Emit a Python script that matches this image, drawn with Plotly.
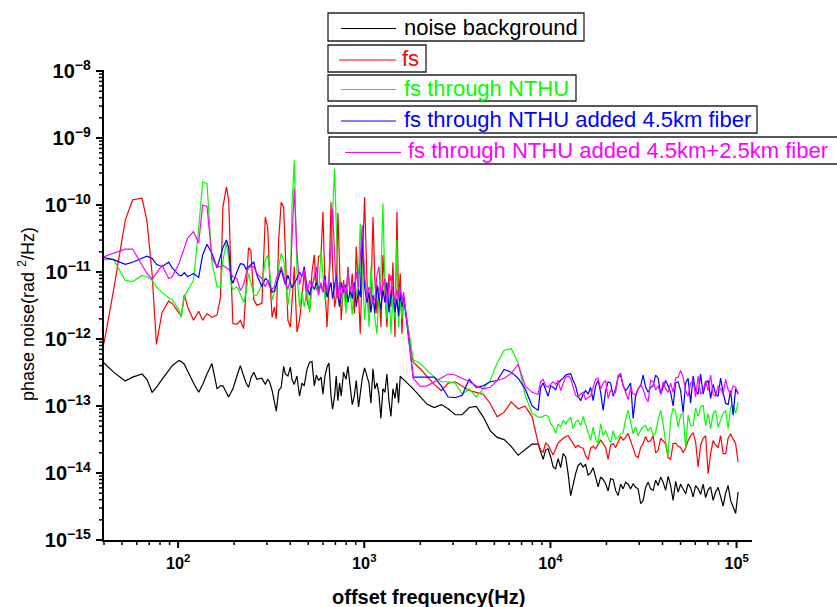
import math
import plotly.graph_objects as go

# ---------------- data (offset frequency in Hz, phase noise in rad^2/Hz) ----------------
freq_a = [40, 45, 52, 57, 64, 68, 72.5, 76.5, 82, 89, 93, 101, 104, 108, 112.6, 121, 129, 135.5, 143, 152,
          162, 169, 174, 182, 187, 192.5, 197, 207, 216, 225, 232, 239, 246, 255, 265, 282, 294, 303, 310, 320,
          329, 337, 347, 358, 369, 377, 389, 401, 409, 421, 435, 449, 463, 476, 492, 509, 524, 539, 553, 568,
          586, 600, 615, 631, 646, 663, 676, 693, 707, 722, 737, 752, 774, 798, 817, 841, 862, 884, 906, 932,
          952, 976, 1004, 1034, 1060, 1086, 1114, 1141, 1170, 1199, 1229, 1260, 1291, 1324, 1357, 1391, 1426, 1462, 1498, 1528,
          1561, 1594, 1626]
freq_b = [1832, 1998, 2179, 2376, 2591, 2824, 3080, 3357, 3661, 3993, 4353, 4747, 5176, 5643, 6153, 6709, 7314, 7975]
freq_c = [8590, 8860, 9138, 9425, 9721, 10026, 10341, 10666, 11001, 11346, 11702, 12070, 12449, 12840, 13243, 13659,
          14088, 14530, 14986, 15457, 15942, 16443, 16959, 17492, 18041, 18608, 19192, 19795, 20416, 21057, 21719,
          22401, 23104, 23830, 24578, 25350, 26146, 26967, 27814, 28687, 29588, 30517, 31475, 32464, 33483, 34535,
          35619, 36738, 37891, 39081, 40308, 41574, 42880, 44226, 45615, 47047, 48525, 50048, 51620, 53241, 54913,
          56637, 58415, 60250, 62142, 64093, 66105, 68181, 70322, 72530, 74807, 77156, 79579, 82078, 84655, 87313,
          90055, 92882, 95799, 98807, 101910]

noise_a = [4.4e-13, 3.2e-13, 2.36e-13, 2.7e-13, 3.0e-13, 2.5e-13, 1.6e-13, 1.9e-13, 2.5e-13, 3.4e-13,
           4.0e-13, 4.8e-13, 4.6e-13, 4.2e-13, 3.3e-13, 2.2e-13, 1.6e-13, 2.1e-13, 3.0e-13, 4.3e-13,
           1.8e-13, 2.0e-13, 2.0e-13, 1.6e-13, 1.36e-13, 1.6e-13, 1.8e-13, 2.8e-13, 4.0e-13, 2.8e-13,
           2.2e-13, 1.9e-13, 2.6e-13, 3.2e-13, 2.5e-13, 2.6e-13, 2.1e-13, 2.5e-13, 2.3e-13, 1.7e-13,
           1.2e-13, 8.4e-14, 1.7e-13, 1.9e-13, 3.9e-13, 3.0e-13, 2.8e-13, 3.8e-13, 2.5e-13, 2.1e-13,
           2.8e-13, 1.4e-13, 2.2e-13, 2.0e-13, 3.5e-13, 4.5e-13, 4.6e-13, 2.0e-13, 2.9e-13, 2.4e-13,
           2.7e-13, 1.5e-13, 2.8e-13, 3.8e-13, 4.4e-13, 1.4e-13, 9.0e-14, 1.4e-13, 2.8e-13, 1.2e-13,
           2.2e-13, 1.4e-13, 3.2e-13, 2.5e-13, 3.9e-13, 1.8e-13, 1.05e-13, 1.4e-13, 2.4e-13, 9.7e-14,
           1.5e-13, 2.6e-13, 3.7e-13, 2.8e-13, 2.2e-13, 1.1e-13, 3.6e-13, 1.8e-13, 2.2e-13, 1.5e-13,
           6.5e-14, 1.8e-13, 1.6e-13, 3.0e-13, 1.2e-13, 7.0e-14, 1.8e-13, 1.3e-13, 2.2e-13, 1.1e-13,
           2.8e-13, 2.6e-13, 2.5e-13]
noise_b = [1.8e-13, 1.36e-13, 1.06e-13, 9.5e-14, 1.05e-13, 9.1e-14, 7.4e-14, 7.4e-14, 9.5e-14, 9.9e-14,
           6.9e-14, 4.3e-14, 3.4e-14, 3.15e-14, 2.5e-14, 1.84e-14, 2.2e-14, 2.7e-14]
noise_c = [2.7e-14, 2.05e-14, 1.6e-14, 2.2e-14, 2.3e-14, 1.75e-14, 1.23e-14, 1.16e-14, 1.64e-14, 1.2e-14,
           1.95e-14, 1.75e-14, 9.8e-15, 4.6e-15, 6.9e-15, 9.8e-15, 1.3e-14, 1.4e-14, 1.23e-14, 1.35e-14,
           9.3e-15, 1.0e-14, 1.2e-14, 8.7e-15, 6.2e-15, 8.7e-15, 8.0e-15, 6.9e-15, 5.4e-15, 8.2e-15,
           8.0e-15, 5.5e-15, 4.6e-15, 6.8e-15, 5.8e-15, 7.3e-15, 6.8e-15, 5.8e-15, 6.9e-15, 6.1e-15,
           5.8e-15, 3.5e-15, 3.9e-15, 6.1e-15, 7.3e-15, 5.8e-15, 5.5e-15, 7.8e-15, 6.5e-15, 8.7e-15,
           7.3e-15, 5.5e-15, 8.9e-15, 6.5e-15, 3.9e-15, 7.5e-15, 5.2e-15, 6.8e-15, 5.8e-15, 4.9e-15,
           6.9e-15, 6.0e-15, 4.4e-15, 6.5e-15, 5.8e-15, 4.8e-15, 6.8e-15, 4.3e-15, 5.6e-15, 6.2e-15,
           3.9e-15, 5.2e-15, 6.1e-15, 4.6e-15, 3.2e-15, 5.0e-15, 6.5e-15, 3.9e-15, 3.0e-15, 2.5e-15,
           5.2e-15]

fs_a = [8.6e-13, 5.3e-12, 5.9e-11, 1.2e-10, 1.26e-10, 5.9e-11, 9.5e-12, 8.3e-13, 2.5e-12, 3.7e-12,
        3.4e-12, 2.4e-12, 2.2e-12, 4.6e-12, 3.0e-12, 1.9e-12, 2.6e-12, 1.9e-12, 2.4e-12, 2.1e-12,
        2.3e-12, 4.2e-12, 9.3e-11, 1.86e-10, 1.17e-10, 9.5e-12, 1.7e-12, 1.66e-12, 1.9e-12, 1.43e-12,
        6.0e-12, 2.3e-11, 2.1e-11, 3.8e-12, 3.2e-12, 3.4e-12, 6.6e-11, 4.6e-11, 9.5e-12, 2.1e-12,
        3.0e-12, 2.0e-12, 3.0e-11, 1.1e-10, 9.3e-11, 2.1e-11, 1.9e-12, 1.5e-12, 4.2e-12, 1.2e-11,
        1.27e-12, 1.9e-12, 4.2e-12, 1.0e-11, 3.8e-12, 2.7e-12, 1.0e-11, 1.8e-11, 5.3e-12, 1.7e-11,
        1.8e-11, 7.9e-11, 6.0e-12, 1.5e-12, 6.0e-12, 1.1e-10, 1.2e-11, 3.0e-12, 4.2e-12, 7.6e-11,
        1.2e-11, 1.9e-12, 7.5e-12, 3.4e-12, 1.2e-11, 4.2e-12, 9.5e-12, 2.4e-12, 2.4e-11, 4.2e-12,
        1.2e-12, 1.2e-11, 1.3e-10, 7.5e-12, 1.9e-12, 4.0e-12, 6.6e-11, 7.5e-12, 2.4e-12, 6.0e-12,
        1.5e-12, 1.8e-11, 6.0e-12, 1.5e-12, 9.5e-12, 3.0e-12, 1.4e-11, 1.07e-12, 7.9e-11, 3.8e-12,
        9.5e-12, 1.2e-12, 4.2e-12]
fs_b = [4.5e-13, 3.6e-13, 2.7e-13, 2.1e-13, 1.7e-13, 2.2e-13, 2.3e-13, 1.97e-13, 1.7e-13, 1.6e-13,
        1.5e-13, 1.09e-13, 6.9e-14, 8.1e-14, 1.15e-13, 9.1e-14, 9.9e-14, 6.9e-14]
fs_c = [2.8e-14, 2.2e-14, 2.05e-14, 2.8e-14, 2.6e-14, 2.2e-14, 1.85e-14, 2.3e-14, 2.8e-14, 3.05e-14,
        3.3e-14, 3.5e-14, 3.6e-14, 3.2e-14, 2.75e-14, 2.4e-14, 2.6e-14, 2.4e-14, 2.35e-14, 1.8e-14,
        1.6e-14, 2.35e-14, 2.5e-14, 2.3e-14, 2.75e-14, 3.1e-14, 2.75e-14, 2.4e-14, 1.6e-14, 2.6e-14,
        2.75e-14, 2.4e-14, 2.9e-14, 3.5e-14, 3.1e-14, 3.4e-14, 3.9e-14, 2.9e-14, 2.35e-14, 1.8e-14,
        1.7e-14, 2.4e-14, 2.75e-14, 3.5e-14, 2.9e-14, 3.05e-14, 3.6e-14, 2.0e-14, 2.2e-14, 3.3e-14,
        3.05e-14, 2.75e-14, 1.7e-14, 1.6e-14, 2.75e-14, 2.8e-14, 2.5e-14, 2.4e-14, 2.0e-14, 2.35e-14,
        3.05e-14, 3.6e-14, 4.0e-14, 2.9e-14, 1.23e-14, 2.6e-14, 3.3e-14, 3.6e-14, 9.8e-15, 1.95e-14,
        3.05e-14, 2.6e-14, 2.4e-14, 3.6e-14, 1.95e-14, 1.95e-14, 3.3e-14, 3.85e-14, 3.2e-14, 2.75e-14,
        1.45e-14]

nthu_a = [1.53e-11, 1.55e-11, 7.5e-12, 7.2e-12, 8.9e-12, 8.5e-12, 7.5e-12, 6.0e-12, 5.0e-12, 4.1e-12,
          3.9e-12, 2.7e-12, 2.1e-12, 4.3e-12, 5.3e-12, 7.5e-12, 4.5e-11, 2.2e-10, 2.1e-10, 1.4e-11,
          6.0e-12, 6.0e-12, 1.5e-11, 2.7e-11, 1.6e-11, 6.5e-12, 5.5e-12, 6.0e-12, 4.7e-12, 3.5e-12,
          5.0e-12, 9.5e-12, 7.0e-12, 4.5e-12, 4.5e-12, 6.5e-12, 1.5e-11, 1.8e-11, 1.06e-11, 3.8e-12,
          5.0e-12, 5.5e-12, 1.2e-11, 1.9e-11, 1.5e-11, 8.0e-12, 3.2e-12, 6.0e-12, 1.0e-10, 4.65e-10,
          1.0e-11, 3.0e-12, 5.0e-12, 3.0e-12, 5.5e-12, 2.5e-12, 6.0e-12, 8.4e-12, 6.0e-12, 4.5e-12,
          2.1e-11, 1.0e-11, 3.8e-12, 5.0e-12, 7.0e-12, 2.4e-11, 8.0e-11, 3.5e-10, 5.3e-11, 6.0e-12,
          3.2e-12, 3.0e-12, 6.5e-12, 2.4e-12, 1.0e-11, 4.2e-12, 2.3e-12, 7.0e-12, 4.0e-12, 1.0e-11,
          5.3e-11, 1.2e-11, 1.9e-12, 6.0e-12, 1.5e-12, 1.2e-11, 4.2e-12, 2.0e-12, 1.2e-12, 5.0e-12,
          9.5e-12, 1.05e-10, 6.0e-12, 2.0e-12, 6.0e-12, 1.2e-12, 4.5e-12, 2.0e-12, 3.0e-11, 1.5e-12,
          4.2e-12, 2.0e-12, 4.0e-12]
nthu_b = [4.9e-13, 4.3e-13, 3.4e-13, 2.7e-13, 2.3e-13, 2.3e-13, 2.2e-13, 1.5e-13, 1.8e-13, 1.36e-13,
          1.8e-13, 2.4e-13, 4.4e-13, 6.8e-13, 7.2e-13, 4.4e-13, 1.45e-13, 7.7e-14]
nthu_c = [6.9e-14, 6.7e-14, 7.0e-14, 7.3e-14, 7.0e-14, 5.5e-14, 4.85e-14, 3.9e-14, 5.4e-14, 4.85e-14,
          6.1e-14, 5.4e-14, 6.1e-14, 6.8e-14, 4.6e-14, 5.8e-14, 6.1e-14, 5.1e-14, 7.0e-14, 5.4e-14,
          3.85e-14, 3.05e-14, 4.85e-14, 3.2e-14, 2.75e-14, 5.4e-14, 3.6e-14, 4.3e-14, 3.4e-14, 2.8e-14,
          4.3e-14, 3.2e-14, 3.4e-14, 3.8e-14, 4.0e-14, 6.3e-14, 8.6e-14, 5.4e-14, 3.85e-14, 4.85e-14,
          3.6e-14, 4.3e-14, 4.9e-14, 5.1e-14, 4.2e-14, 4.85e-14, 3.6e-14, 4.0e-14, 6.3e-14, 8.6e-14,
          5.4e-14, 2.9e-14, 1.8e-14, 6.3e-14, 9.3e-14, 8.2e-14, 4.85e-14, 7.3e-14, 7.7e-14, 2.3e-14,
          7.3e-14, 5.1e-14, 5.1e-14, 9.3e-14, 7.0e-14, 9.7e-14, 1.02e-13, 5.1e-14, 7.7e-14, 4.6e-14,
          7.7e-14, 8.6e-14, 4.85e-14, 6.1e-14, 7.7e-14, 8.6e-14, 4.6e-14, 9.7e-14, 1.02e-13, 7.7e-14,
          1.15e-13]

fib45_a = [1.64e-11, 1.53e-11, 1.3e-11, 1.4e-11, 1.6e-11, 1.72e-11, 1.6e-11, 1.3e-11, 1.2e-11, 1.4e-11,
           1.15e-11, 9.0e-12, 8.8e-12, 9.8e-12, 8.5e-12, 9.5e-12, 8.3e-12, 1.8e-11, 2.6e-11, 1.9e-11,
           1.15e-11, 1.7e-11, 2.3e-11, 3.0e-11, 2.3e-11, 8.0e-12, 6.8e-12, 1.0e-11, 1.33e-11, 1.3e-11,
           1.1e-11, 1.2e-11, 1.3e-11, 1.4e-11, 9.0e-12, 6.0e-12, 8.0e-12, 7.5e-12, 6.5e-12, 5.0e-12,
           5.2e-12, 6.5e-12, 8.5e-12, 1.1e-11, 8.0e-12, 6.5e-12, 9.0e-12, 7.0e-12, 5.8e-12, 6.8e-12,
           8.0e-12, 1.0e-11, 8.5e-12, 1.2e-11, 6.0e-12, 4.5e-12, 6.5e-12, 5.5e-12, 7.0e-12, 5.5e-12,
           6.5e-12, 5.0e-12, 8.9e-12, 4.2e-12, 5.5e-12, 7.0e-12, 4.0e-12, 6.0e-12, 9.0e-12, 4.5e-12,
           3.0e-12, 7.0e-12, 5.0e-12, 6.5e-12, 3.5e-12, 5.5e-12, 4.0e-12, 7.0e-12, 3.0e-12, 5.5e-12,
           4.2e-12, 3.7e-11, 6.0e-12, 3.5e-12, 5.0e-12, 2.5e-12, 4.5e-12, 2.4e-12, 6.5e-12, 4.0e-12,
           2.8e-12, 5.5e-12, 3.5e-12, 7.0e-12, 2.5e-12, 4.5e-12, 6.0e-12, 2.5e-12, 4.0e-12, 2.2e-12,
           5.0e-12, 3.0e-12, 4.5e-12]
fib45_b = [2.7e-13, 2.7e-13, 2.7e-13, 2.7e-13, 2.0e-13, 1.36e-13, 1.33e-13, 1.45e-13, 2.5e-13, 1.9e-13,
           2.0e-13, 2.3e-13, 2.4e-13, 3.5e-13, 3.2e-13, 2.6e-13, 1.8e-13, 1.0e-13]
fib45_c = [8.6e-14, 1.9e-13, 2.2e-13, 1.7e-13, 1.4e-13, 2.0e-13, 1.9e-13, 1.75e-13, 2.2e-13, 2.42e-13,
           2.6e-13, 2.9e-13, 3.0e-13, 3.05e-13, 2.4e-13, 2.0e-13, 1.4e-13, 1.2e-13, 1.5e-13, 1.7e-13,
           1.5e-13, 1.9e-13, 1.2e-13, 2.0e-13, 2.4e-13, 1.6e-13, 8.6e-14, 1.7e-13, 2.3e-13, 2.2e-13,
           1.4e-13, 1.8e-13, 2.7e-13, 2.9e-13, 2.0e-13, 1.7e-13, 1.9e-13, 2.2e-13, 6.5e-14, 1.4e-13,
           1.8e-13, 2.0e-13, 2.9e-13, 1.9e-13, 1.6e-13, 1.9e-13, 2.0e-13, 2.9e-13, 2.6e-13, 1.5e-13,
           1.9e-13, 2.4e-13, 2.0e-13, 1.6e-13, 1.0e-13, 2.2e-13, 2.3e-13, 1.7e-13, 8.0e-14, 2.2e-13,
           2.6e-13, 1.1e-13, 2.8e-13, 1.7e-13, 1.5e-13, 3.0e-13, 1.5e-13, 2.2e-13, 2.4e-13, 1.3e-13,
           2.1e-13, 1.5e-13, 1.4e-13, 2.6e-13, 1.6e-13, 1.1e-13, 1.05e-13, 1.7e-13, 7.3e-14, 1.8e-13,
           1.5e-13]

fib70_a = [1.7e-11, 1.9e-11, 2.2e-11, 2.2e-11, 1.3e-11, 9.5e-12, 7.8e-12, 9.5e-12, 1.26e-11, 8.0e-12,
           8.5e-12, 1.33e-11, 1.7e-11, 2.3e-11, 3.2e-11, 4.0e-11, 2.7e-11, 1.0e-10, 9.5e-11, 1.6e-11,
           1.2e-11, 1.2e-11, 1.25e-11, 1.15e-11, 1.1e-11, 9.5e-12, 8.5e-12, 8.0e-12, 5.3e-12, 6.5e-12,
           9.5e-12, 1.15e-11, 1.2e-11, 1.2e-11, 9.5e-12, 8.0e-12, 6.0e-12, 7.5e-12, 6.0e-12, 5.5e-12,
           6.0e-12, 8.0e-12, 9.5e-12, 1.2e-11, 9.0e-12, 7.0e-12, 5.5e-12, 8.0e-12, 3.0e-11, 1.75e-10,
           2.0e-11, 6.5e-12, 9.0e-12, 1.1e-11, 5.0e-12, 7.5e-12, 6.0e-12, 9.0e-12, 1.2e-11, 4.5e-12,
           7.0e-12, 5.0e-12, 8.0e-12, 5.0e-12, 7.5e-12, 2.5e-11, 8.8e-11, 1.8e-11, 6.0e-12, 4.0e-12,
           7.0e-12, 4.0e-12, 6.5e-12, 4.5e-12, 1.0e-11, 5.0e-12, 7.0e-12, 4.5e-12, 1.0e-11, 6.0e-12,
           1.8e-11, 5.0e-11, 9.0e-12, 4.0e-12, 6.0e-12, 5.0e-12, 3.5e-12, 4.0e-12, 9.0e-12, 1.2e-11,
           4.5e-12, 6.0e-12, 8.0e-12, 3.5e-12, 6.5e-12, 9.0e-12, 4.5e-12, 3.5e-12, 5.5e-12, 4.0e-12,
           6.0e-12, 3.5e-12, 5.0e-12]
fib70_b = [2.6e-13, 1.97e-13, 2.0e-13, 2.3e-13, 2.65e-13, 3.0e-13, 2.9e-13, 2.6e-13, 2.3e-13, 2.0e-13,
           1.8e-13, 1.9e-13, 2.4e-13, 2.6e-13, 3.05e-13, 4.2e-13, 2.0e-13, 1.6e-13]
fib70_c = [1.5e-13, 2.3e-13, 2.5e-13, 2.0e-13, 1.9e-13, 2.1e-13, 2.3e-13, 2.1e-13, 2.4e-13, 1.7e-13,
           2.2e-13, 2.7e-13, 2.8e-13, 2.6e-13, 1.9e-13, 1.45e-13, 1.35e-13, 1.5e-13, 1.6e-13, 1.25e-13,
           1.35e-13, 1.4e-13, 1.9e-13, 2.5e-13, 2.6e-13, 1.8e-13, 2.2e-13, 2.4e-13, 1.3e-13, 1.75e-13,
           1.5e-13, 1.6e-13, 2.9e-13, 3.05e-13, 2.0e-13, 1.6e-13, 1.25e-13, 1.9e-13, 1.5e-13, 1.5e-13,
           1.8e-13, 2.1e-13, 1.8e-13, 1.35e-13, 1.15e-13, 2.4e-13, 2.3e-13, 1.75e-13, 2.0e-13, 1.5e-13,
           2.3e-13, 1.8e-13, 1.6e-13, 2.2e-13, 1.6e-13, 2.6e-13, 2.7e-13, 3.4e-13, 2.7e-13, 1.7e-13,
           1.4e-13, 2.2e-13, 2.4e-13, 1.35e-13, 2.8e-13, 1.5e-13, 1.7e-13, 2.4e-13, 1.7e-13, 2.9e-13,
           1.5e-13, 1.4e-13, 2.0e-13, 1.8e-13, 1.5e-13, 2.5e-13, 1.75e-13, 1.5e-13, 2.0e-13, 1.9e-13,
           1.55e-13]

series_names = ["noise background", "fs", "fs through NTHU",
                "fs through NTHU added 4.5km fiber", "fs through NTHU added 4.5km+2.5km fiber"]
series_colors = ["#000000", "#FF0000", "#00FF00", "#0000FF", "#FF00FF"]
series_parts = [(noise_a, noise_b, noise_c), (fs_a, fs_b, fs_c), (nthu_a, nthu_b, nthu_c),
                (fib45_a, fib45_b, fib45_c), (fib70_a, fib70_b, fib70_c)]

freq = freq_a + freq_b + freq_c
for parts in series_parts:
    assert len(parts[0]) == len(freq_a) and len(parts[1]) == len(freq_b) and len(parts[2]) == len(freq_c)

FONT = "Arial, Liberation Sans, Helvetica, sans-serif"
W, H = 837, 607
L, R, T, B = 104, 85, 71, 67
PW, PH = W - L - R, H - T - B
X_RANGE = [math.log10(40), math.log10(121000)]
Y_RANGE = [-15, -8]


def px2x(px):
    return (px - L) / PW


def py2y(py):
    return (H - B - py) / PH


def xfrac(v):
    # fraction of the log x axis where value v sits
    return (math.log10(v) - X_RANGE[0]) / (X_RANGE[1] - X_RANGE[0])


def yfrac(v):
    return (math.log10(v) - Y_RANGE[0]) / (Y_RANGE[1] - Y_RANGE[0])


fig = go.Figure()
for name, color, parts in zip(series_names, series_colors, series_parts):
    fig.add_trace(go.Scatter(x=freq, y=parts[0] + parts[1] + parts[2], mode="lines", name=name,
                             line=dict(color=color, width=1.2), showlegend=False))

# tick positions at 1..9 within each decade (decades carry the long ticks)
x_major_vals = [100, 1000, 10000, 100000]
y_major_vals = [1e-15, 1e-14, 1e-13, 1e-12, 1e-11, 1e-10, 1e-9, 1e-8]
x_minor = [m * 10 ** e for e in range(1, 5) for m in range(2, 10) if 40 <= m * 10 ** e <= 120000]
y_minor = [m * 10.0 ** e for e in range(-15, -8) for m in range(2, 10)]

# axes keep transparent outside ticks so labels sit at the right distance;
# the visible tick marks are drawn as unclipped paper shapes below
axis_common = dict(type="log", showline=True, linewidth=2, linecolor="black", mirror=False,
                   ticks="outside", ticklen=8, tickwidth=2, tickcolor="rgba(0,0,0,0)", dtick=1,
                   exponentformat="power", showexponent="all", showgrid=False, zeroline=False)

fig.update_layout(
    width=W, height=H, margin=dict(l=L, r=R, t=T, b=B),
    plot_bgcolor="white", paper_bgcolor="white",
    font=dict(family=FONT, color="black"),
    xaxis=dict(range=X_RANGE, tickfont=dict(family=FONT, size=13, color="black", weight="bold"),
               **axis_common),
    yaxis=dict(range=Y_RANGE, tickfont=dict(family=FONT, size=16, color="black", weight="bold"),
               **axis_common),
)

shapes = []
for v, ln, wd in [(v, 8, 2) for v in x_major_vals] + [(v, 5, 1.5) for v in x_minor]:
    shapes.append(dict(type="line", xref="paper", yref="paper", x0=xfrac(v), x1=xfrac(v),
                       y0=0, y1=-ln / PH, line=dict(color="black", width=wd), layer="above"))
for v, ln, wd in [(v, 8, 2) for v in y_major_vals] + [(v, 5, 1.5) for v in y_minor]:
    shapes.append(dict(type="line", xref="paper", yref="paper", x0=0, x1=-ln / PW,
                       y0=yfrac(v), y1=yfrac(v), line=dict(color="black", width=wd), layer="above"))

annotations = [
    dict(text="offset frequency(Hz)", x=px2x(428), y=py2y(597), xref="paper", yref="paper",
         showarrow=False, xanchor="center", yanchor="middle",
         font=dict(family=FONT, size=20, color="black", weight="bold")),
    dict(text="phase noise(rad <sup>2</sup>/Hz)", x=px2x(26), y=py2y(314), xref="paper", yref="paper",
         showarrow=False, xanchor="center", yanchor="middle", textangle=-90,
         font=dict(family=FONT, size=18, color="black")),
]

# legend: one framed box per entry
legend_boxes = [(328, 584, 13, 41), (328, 426, 45, 72), (328, 576, 75, 101), (328, 757, 106, 133), (329, 850, 137, 164)]
legend_lines = [(341, 396, 28.5), (339, 396, 60), (341, 396, 89.5), (341, 396, 121), (345, 401, 152.5)]
legend_text = [(402, 27.5), (400, 58.5), (402, 88), (402, 119.5), (406, 150.5)]

for (x0, x1, y0, y1), (lx0, lx1, ly), (tx, ty), name, color in zip(legend_boxes, legend_lines, legend_text,
                                                                  series_names, series_colors):
    shapes.append(dict(type="rect", xref="paper", yref="paper", x0=px2x(x0), x1=px2x(x1),
                       y0=py2y(y1), y1=py2y(y0), line=dict(color="#222222", width=1.3),
                       fillcolor="rgba(0,0,0,0)"))
    shapes.append(dict(type="line", xref="paper", yref="paper", x0=px2x(lx0), x1=px2x(lx1),
                       y0=py2y(ly), y1=py2y(ly), line=dict(color=color, width=1.2)))
    annotations.append(dict(text=name, x=px2x(tx), y=py2y(ty), xref="paper", yref="paper",
                            showarrow=False, xanchor="left", yanchor="middle",
                            font=dict(family=FONT, size=22, color=color)))

fig.update_layout(shapes=shapes, annotations=annotations)
fig.write_html("out.html")
